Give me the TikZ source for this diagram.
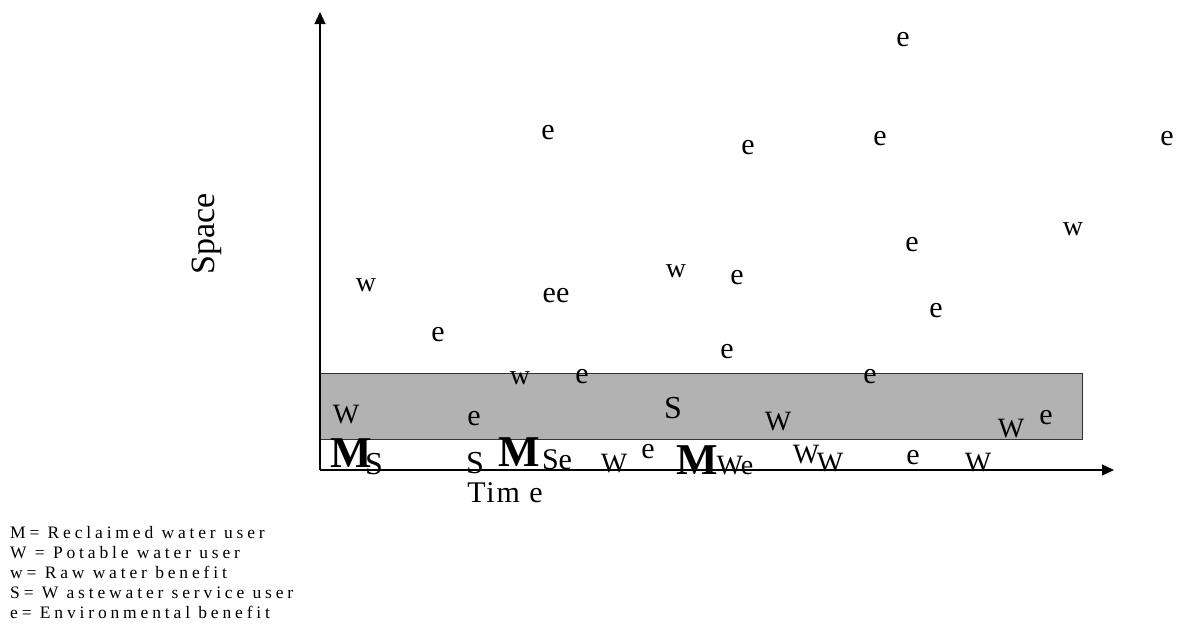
\documentclass[tikz,border=0pt]{standalone}
\usepackage{fontspec}
\setmainfont{Liberation Serif}
\usetikzlibrary{arrows.meta}
\tikzset{
  lbl/.style={inner sep=0pt, font=\fontsize{#1}{#1}\selectfont},
  lbl/.default=28,
  bigm/.style={inner sep=0pt, font=\fontsize{44}{44}\selectfont\bfseries},
  axis/.style={line width=1.2pt, -{Triangle[length=12pt,width=11pt]}},
  leg/.style={inner sep=0pt, anchor=base west, font=\fontsize{17.5}{17.5}\selectfont\addfontfeature{LetterSpace=22}}
}
\begin{document}
\begin{tikzpicture}[x=1pt,y=-1pt]
\useasboundingbox (0,0) rectangle (1178,635);
% band
\node[draw=black!80, line width=1pt, fill=black!30, inner sep=0pt, minimum width=762pt, minimum height=66pt, anchor=north west] (band) at (320,373) {};
% axes
\coordinate (o) at (320,470);
\coordinate (ytop) at (320,12);
\coordinate (xend) at (1114,470);
\draw[axis] (o) -- (ytop);
\draw[axis] (o) -- (xend);
% axis labels
\node[lbl=34, rotate=90] (space) at (207,234) {Space};
\node[inner sep=0pt, font=\fontsize{30}{30}\selectfont\addfontfeature{LetterSpace=6}] (time) at (505,493) {Tim e};
% upper scattered symbols
\node[lbl=30] (e1) at (903,40) {e};
\node[lbl=30] (e2) at (548,133) {e};
\node[lbl=30] (e3) at (748,148) {e};
\node[lbl=30] (e4) at (880,139) {e};
\node[lbl=30] (e5) at (1167,139) {e};
\node[lbl=28] (w1) at (1073,229) {w};
\node[lbl=30] (e6) at (912,245) {e};
\node[lbl=28] (w2) at (366,285) {w};
\node[lbl=30] (e7) at (438,335) {e};
\node[lbl=30] (e8) at (556,296) {ee};
\node[lbl=28] (w3) at (676,271) {w};
\node[lbl=30] (e9) at (737,278) {e};
\node[lbl=30] (e10) at (936,311) {e};
\node[lbl=30] (e11) at (727,352) {e};
\node[lbl=28] (w4) at (520,378) {w};
\node[lbl=30] (e12) at (582,377) {e};
\node[lbl=30] (e13) at (870,377) {e};
% inside band
\node[lbl=28] (W1) at (346,415) {W};
\node[lbl=30] (e14) at (474,419) {e};
\node[lbl=32] (S1) at (673,408) {S};
\node[lbl=28] (W2) at (778,422) {W};
\node[lbl=28] (W3) at (1011,429) {W};
\node[lbl=30] (e15) at (1046,418) {e};
% bottom row
\node[bigm] (M1) at (351,453) {M};
\node[lbl=32] (S2) at (374,464) {S};
\node[lbl=32] (S3) at (475,463) {S};
\node[bigm] (M2) at (519,452) {M};
\node[lbl=30] (Se) at (557,460) {Se};
\node[lbl=28] (W4) at (614,464) {W};
\node[lbl=30] (e16) at (648,452) {e};
\node[bigm] (M3) at (697,460) {M};
\node[lbl=28] (We) at (735,466) {We};
\node[lbl=28] (W5) at (806,455) {W};
\node[lbl=28] (W6) at (830,463) {W};
\node[lbl=30] (e17) at (913,458) {e};
\node[lbl=28] (W7) at (978,463) {W};
% legend
\node[leg] (l1) at (10,538) {M= Reclaimed water user};
\node[leg] (l2) at (10,558) {W = Potable water user};
\node[leg] (l3) at (10,578) {w= Raw water benefit};
\node[leg] (l4) at (10,598) {S= W astewater service user};
\node[leg] (l5) at (10,618) {e= Environmental benefit};
\end{tikzpicture}
\end{document}
